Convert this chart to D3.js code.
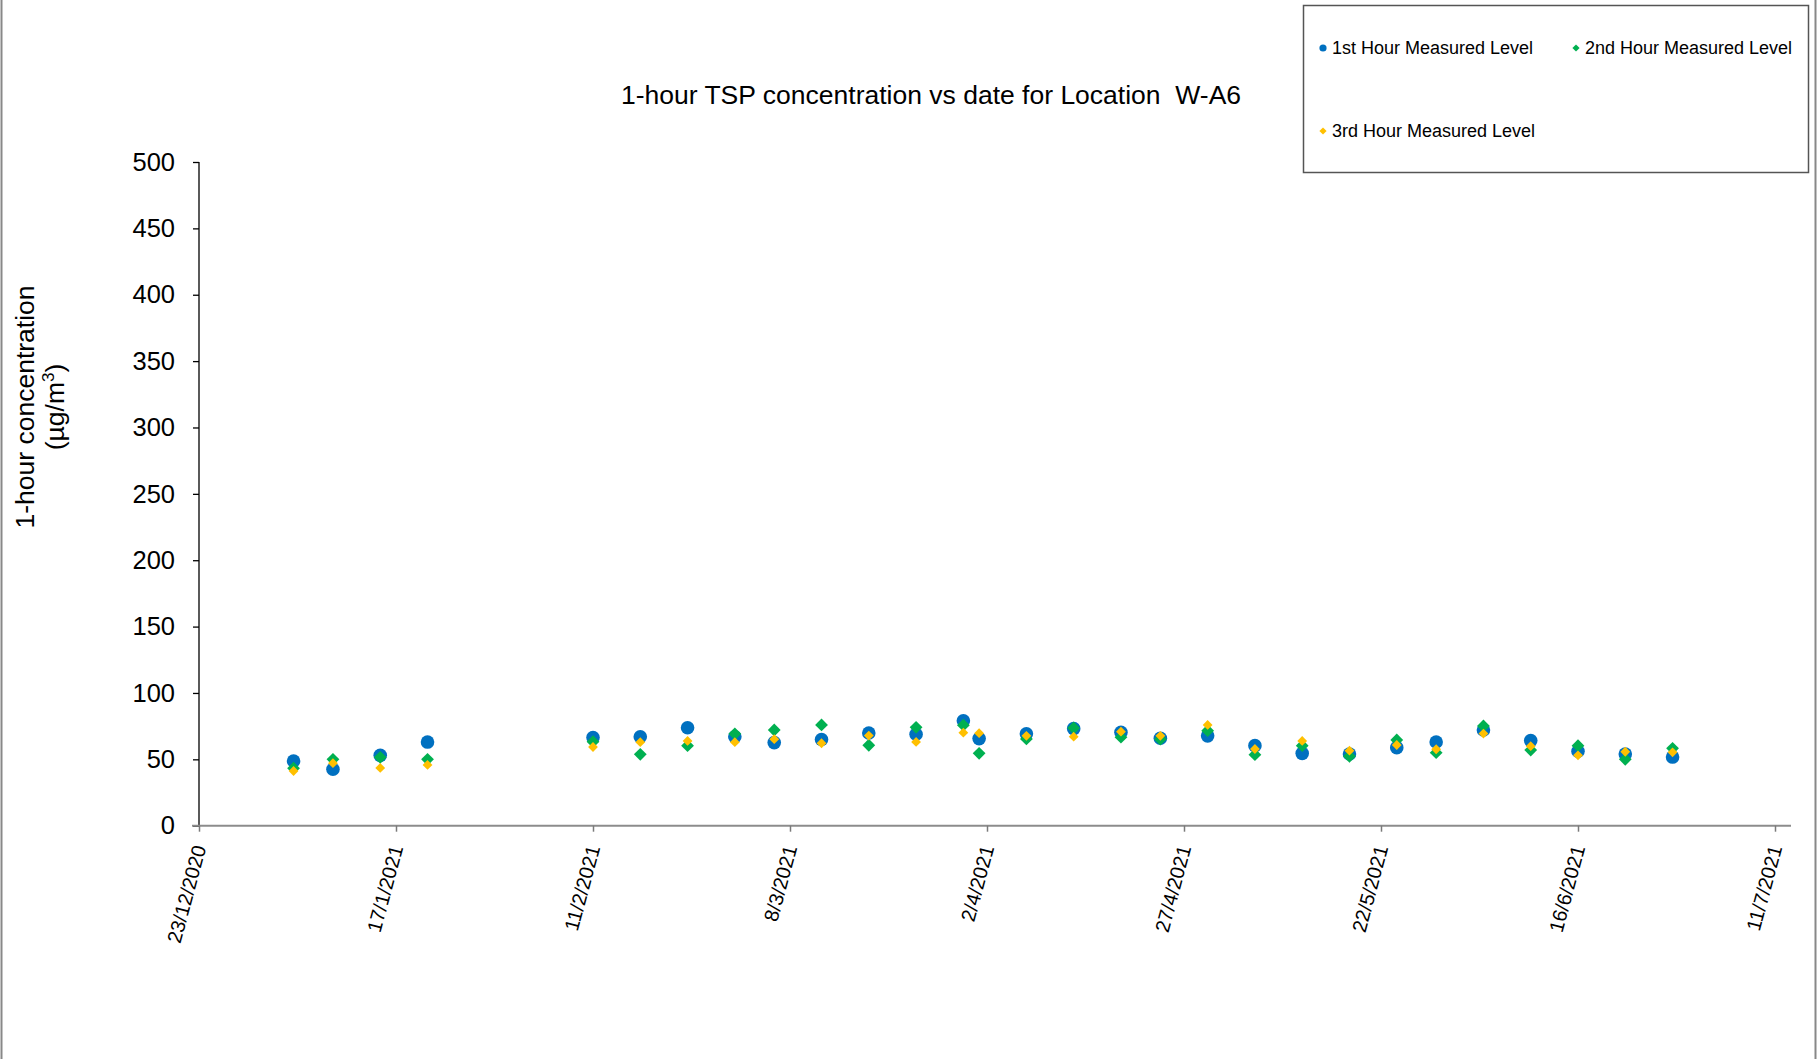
<!DOCTYPE html>
<html>
<head>
<meta charset="utf-8">
<script src="https://cdn.jsdelivr.net/npm/d3@7"></script>
<style>
  html, body { margin: 0; padding: 0; background: #fff; }
  svg { display: block; font-family: "Liberation Sans", Arial, sans-serif; }
</style>
</head>
<body>
<svg id="chart" width="1820" height="1059"></svg>
<script>
const dates = ["2021-01-04","2021-01-09","2021-01-15","2021-01-21","2021-02-11","2021-02-17","2021-02-23","2021-03-01","2021-03-06","2021-03-12","2021-03-18","2021-03-24","2021-03-30","2021-04-01","2021-04-07","2021-04-13","2021-04-19","2021-04-24","2021-04-30","2021-05-06","2021-05-12","2021-05-18","2021-05-24","2021-05-29","2021-06-04","2021-06-10","2021-06-16","2021-06-22","2021-06-28"];
const hour1 = [48.7,42.5,53,63,66.4,67,73.8,67,62.6,64.9,69.8,68.9,79.1,65.6,69.2,73.1,70.4,65.9,67.7,60.3,54.5,54,58.8,63.1,72.1,64.1,56.1,54,51.7];
const hour2 = [43.3,50,51.5,50,63.3,53.8,60.3,69.2,72.1,75.9,60.6,74.1,75.7,54.5,65.4,73.6,66.7,65.2,71.6,53.5,60.3,52.3,64.6,55,75.1,57,60.3,50,58.3];
const hour3 = [41.2,47.1,43.5,45.8,59.3,62.9,63.9,62.9,65.2,62.1,67.9,63.1,70.1,69.7,67.7,67.1,70.8,67.7,75.9,57.8,63.9,56.5,60.8,57.6,69.4,59.9,53,55.7,55.3];
const xTickDates = ["2020-12-23","2021-01-17","2021-02-11","2021-03-08","2021-04-02","2021-04-27","2021-05-22","2021-06-16","2021-07-11"];
const yTicks = [0,50,100,150,200,250,300,350,400,450,500];
const seriesNames = ["1st Hour Measured Level","2nd Hour Measured Level","3rd Hour Measured Level"];
const seriesColors = ["#0070C0","#00B050","#FFC000"];

const svg = d3.select("#chart");
const parse = d3.utcParse("%Y-%m-%d");
const fmt = d => `${d.getUTCDate()}/${d.getUTCMonth()+1}/${d.getUTCFullYear()}`;

const x = d3.scaleUtc().domain([parse("2020-12-23"), parse("2021-07-11")]).range([199, 1775]);
const y = d3.scaleLinear().domain([0, 500]).range([825.7, 162]);

// outer frame (left/right edges)
svg.append("line").attr("x1",1.5).attr("x2",1.5).attr("y1",0).attr("y2",1059).attr("stroke","#888").attr("stroke-width",2);
svg.append("line").attr("x1",1815.5).attr("x2",1815.5).attr("y1",0).attr("y2",1059).attr("stroke","#888").attr("stroke-width",2);

// title
svg.append("text").attr("x",931).attr("y",104).attr("text-anchor","middle")
  .attr("font-size",26.5).attr("fill","#000").style("white-space","pre")
  .text("1-hour TSP concentration vs date for Location  W-A6");

// y axis
const yAxis = d3.axisLeft(y).tickValues(yTicks).tickSize(6).tickPadding(18).tickFormat(d3.format("d"));
const gy = svg.append("g").attr("transform","translate(199,0)").call(yAxis);
gy.select(".domain").attr("stroke","#000").attr("stroke-width",1.3).attr("d","M0,162V825.7");
gy.selectAll(".tick line").attr("stroke","#000").attr("stroke-width",1.3);
gy.selectAll(".tick text").attr("font-size",25.5).attr("fill","#000").attr("font-family","Liberation Sans, Arial, sans-serif");

// x axis
const xAxis = d3.axisBottom(x).tickValues(xTickDates.map(parse)).tickSize(6).tickFormat(fmt);
const gx = svg.append("g").attr("transform","translate(0,825.7)").call(xAxis);
gx.select(".domain").attr("stroke","#8c8c8c").attr("stroke-width",2).attr("d","M192,0H1791");
gx.selectAll(".tick line").attr("stroke","#7a7a7a").attr("stroke-width",1.5);
gx.selectAll(".tick text")
  .attr("font-size",20).attr("fill","#000").attr("font-family","Liberation Sans, Arial, sans-serif")
  .attr("text-anchor","end").attr("y",0).attr("dy","0.35em")
  .attr("transform","translate(0,20) rotate(-75)");

// y axis title
const yt = svg.append("text").attr("transform","translate(34,407) rotate(-90)")
  .attr("text-anchor","middle").attr("font-size",26.5).attr("fill","#000");
yt.append("tspan").attr("x",0).attr("dy",0).text("1-hour concentration");
yt.append("tspan").attr("x",0).attr("dy",30).text("(µg/m");
yt.append("tspan").attr("font-size",17).attr("dy",-10).text("3");
yt.append("tspan").attr("dy",10).text(")");

// data
const data = dates.map((d,i) => ({date: parse(d), v: [hour1[i], hour2[i], hour3[i]]}));
const diamond = (half) => `M0,${-half}L${half},0L0,${half}L${-half},0Z`;

const plot = svg.append("g");
plot.selectAll("circle.s1").data(data).join("circle").attr("class","s1")
  .attr("cx", d => x(d.date)).attr("cy", d => y(d.v[0])).attr("r",6.8).attr("fill",seriesColors[0]);
plot.selectAll("path.s2").data(data).join("path").attr("class","s2")
  .attr("transform", d => `translate(${x(d.date)},${y(d.v[1])})`).attr("d",diamond(6.4)).attr("fill",seriesColors[1]);
plot.selectAll("path.s3").data(data).join("path").attr("class","s3")
  .attr("transform", d => `translate(${x(d.date)},${y(d.v[2])})`).attr("d",diamond(4.9)).attr("fill",seriesColors[2]);

// legend
svg.append("rect").attr("x",1303.5).attr("y",5.5).attr("width",505).attr("height",167)
  .attr("fill","#fff").attr("stroke","#555").attr("stroke-width",1.5);
const legendPos = [[1323,48],[1576,48],[1323,131]];
seriesNames.forEach((name,i) => {
  const [lx,ly] = legendPos[i];
  const g = svg.append("g").attr("transform",`translate(${lx},${ly})`);
  if (i === 0) g.append("circle").attr("r",3.6).attr("fill",seriesColors[i]);
  else g.append("path").attr("d",diamond(3.6)).attr("fill",seriesColors[i]);
  g.append("text").attr("x",9).attr("y",0).attr("dy","0.35em").attr("font-size",18).attr("fill","#000").text(name);
});
</script>
</body>
</html>
